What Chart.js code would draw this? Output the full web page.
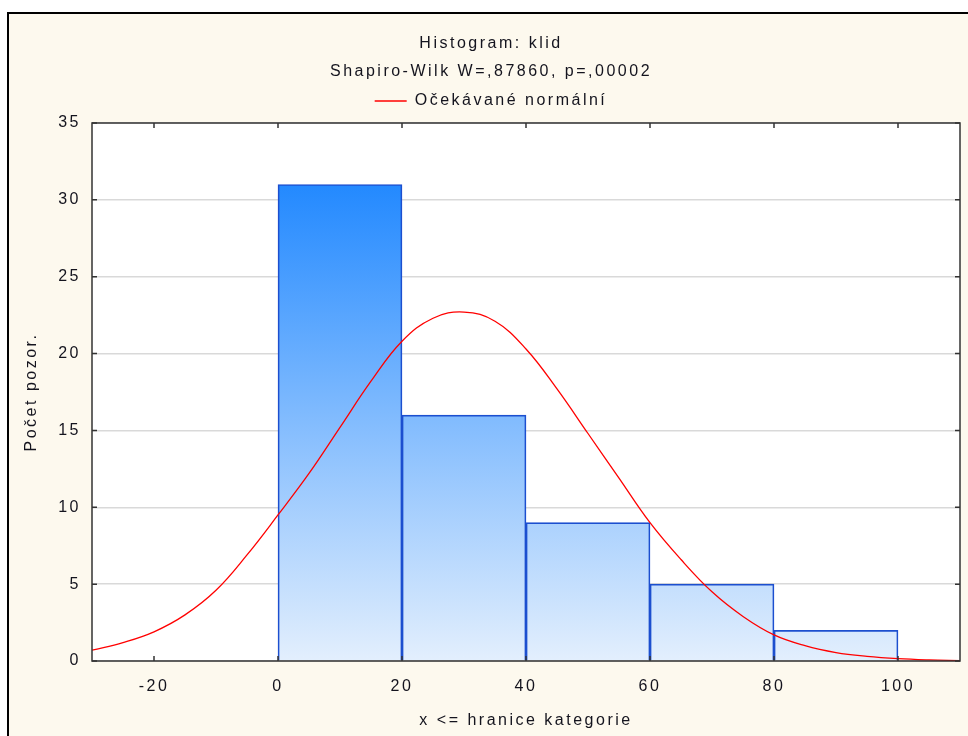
<!DOCTYPE html>
<html lang="cs">
<head>
<meta charset="UTF-8">
<title>Histogram: klid</title>
<script src="https://cdn.jsdelivr.net/npm/chart.js@4.4.1/dist/chart.umd.min.js"></script>
<style>
    html, body { margin: 0; padding: 0; background: #fff; overflow: hidden; }
    #frame { position: absolute; left: 7px; top: 12px; width: 1000px; height: 800px; background: #fdf9ee; border-left: 2px solid #000; border-top: 2px solid #000; }
    #wrap { position: absolute; left: 0; top: 0; width: 968px; height: 736px; }
</style>
</head>
<body>
<div id="frame"></div>
<div id="wrap"><canvas id="histogram"></canvas></div>

<script>
    // histogram bins (x <= upper edge) and counts
    const binEdges = [0, 20, 40, 60, 80, 100];
    const counts = [31, 16, 9, 5, 2];

    // expected normal curve, every 5 units
    const normalX = [-30, -25, -20, -15, -10, -5, 0, 5, 10, 15, 20, 25, 30, 35, 40, 45, 50,
                     55, 60, 65, 70, 75, 80, 85, 90, 95, 100, 105, 110];
    const normalY = [0.7, 1.2, 1.9, 3.0, 4.6, 6.9, 9.5, 12.2, 15.2, 18.2, 20.8, 22.3, 22.7, 22.1, 20.3, 17.7, 14.8,
                     11.9, 9.0, 6.6, 4.5, 2.9, 1.7, 1.0, 0.55, 0.3, 0.15, 0.07, 0.03];

    const xTicks = [-20, 0, 20, 40, 60, 80, 100];
    const yTicks = [0, 5, 10, 15, 20, 25, 30, 35];

    const textColor = '#14141e';
    const font = { family: '"Liberation Sans", Arial, sans-serif', size: 16 };

    // Statistica draws its text quite widely spaced
    const spacing = {
        id: 'spacing',
        beforeLayout(chart) { chart.ctx.letterSpacing = '2.5px'; },
        beforeDraw(chart) { chart.ctx.letterSpacing = '2.5px'; }
    };

    // white plot area, then a box with inward ticks on all four sides
    const frameTicks = {
        id: 'frameTicks',
        beforeDraw(chart) {
            const { ctx, chartArea: a } = chart;
            ctx.save();
            ctx.fillStyle = '#ffffff';
            ctx.fillRect(a.left, a.top, a.right - a.left, a.bottom - a.top);
            ctx.restore();
        },
        afterDraw(chart) {
            const { ctx, chartArea: a, scales: { x, y } } = chart;
            ctx.save();
            ctx.strokeStyle = '#333';
            ctx.lineWidth = 1.5;
            ctx.strokeRect(a.left, a.top, a.right - a.left, a.bottom - a.top);
            ctx.beginPath();
            xTicks.forEach(v => {
                const px = x.getPixelForValue(v);
                ctx.moveTo(px, a.bottom); ctx.lineTo(px, a.bottom - 5);
                ctx.moveTo(px, a.top); ctx.lineTo(px, a.top + 5);
            });
            yTicks.forEach(v => {
                const py = y.getPixelForValue(v);
                ctx.moveTo(a.left, py); ctx.lineTo(a.left + 5, py);
                ctx.moveTo(a.right, py); ctx.lineTo(a.right - 5, py);
            });
            ctx.stroke();
            ctx.restore();
        }
    };

    function barGradient(context) {
        const area = context.chart.chartArea;
        if (!area) return '#8cc0ff';
        const g = context.chart.ctx.createLinearGradient(0, area.bottom, 0, area.top);
        g.addColorStop(0, '#e3effd');
        g.addColorStop(1, '#0a7cff');
        return g;
    }

    new Chart(document.getElementById('histogram'), {
        type: 'bar',
        data: {
            datasets: [
                {
                    type: 'line',
                    label: 'Očekávané normální',
                    data: normalX.map((v, i) => ({ x: v, y: normalY[i] })),
                    borderColor: '#ff0000',
                    borderWidth: 1.3,
                    pointRadius: 0,
                    tension: 0.4,
                    fill: false,
                    order: 0
                },
                {
                    label: 'klid',
                    data: counts.map((c, i) => ({ x: (binEdges[i] + binEdges[i + 1]) / 2, y: c })),
                    backgroundColor: barGradient,
                    borderColor: '#1c4fcf',
                    borderWidth: 1.7,
                    barPercentage: 1,
                    categoryPercentage: 1,
                    order: 1
                }
            ]
        },
        options: {
            responsive: true,
            maintainAspectRatio: false,
            animation: false,
            layout: { padding: { left: 22, right: 8, top: 0, bottom: 0 } },
            scales: {
                x: {
                    type: 'linear',
                    min: -30,
                    max: 110,
                    offset: false,
                    afterBuildTicks: s => { s.ticks = xTicks.map(v => ({ value: v })); },
                    afterFit: s => { s.height = 75; },
                    ticks: { font, color: textColor, padding: 8, autoSkip: false, maxRotation: 0 },
                    grid: { display: false },
                    border: { display: false },
                    title: { display: true, text: 'x <= hranice kategorie', font, color: textColor, padding: { top: 0, bottom: 6 } }
                },
                // empty top axis, only keeps a small gap under the legend
                xTop: {
                    type: 'linear',
                    position: 'top',
                    axis: 'x',
                    min: -30,
                    max: 110,
                    ticks: { display: false },
                    grid: { display: false },
                    border: { display: false },
                    afterFit: s => { s.height = 4; }
                },
                y: {
                    min: 0,
                    max: 35,
                    afterBuildTicks: s => { s.ticks = yTicks.map(v => ({ value: v })); },
                    afterFit: s => { s.width = 70; },
                    ticks: { font, color: textColor, padding: 11 },
                    grid: { color: '#d9d9d9', lineWidth: 1.5, drawTicks: false },
                    border: { display: false },
                    title: { display: true, text: 'Počet pozor.', font, color: textColor, padding: { top: 0, bottom: 0 } }
                }
            },
            plugins: {
                title: {
                    display: true,
                    text: ['Histogram: klid', 'Shapiro-Wilk W=,87860, p=,00002'],
                    font: { ...font, weight: 'normal', lineHeight: 1.75 },
                    color: textColor,
                    padding: { top: 30, bottom: -7 }
                },
                legend: {
                    labels: {
                        filter: item => item.datasetIndex === 0,
                        usePointStyle: true,
                        pointStyle: 'line',
                        pointStyleWidth: 32,
                        font,
                        color: textColor,
                        padding: 14
                    }
                },
                tooltip: { enabled: false }
            }
        },
        plugins: [spacing, frameTicks]
    });
</script>
</body>
</html>
